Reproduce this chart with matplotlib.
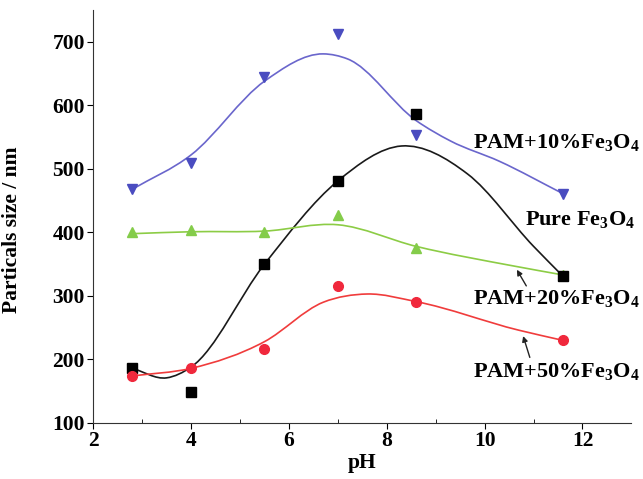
import numpy as np
import matplotlib.pyplot as plt
from matplotlib.path import Path
from matplotlib.patches import PathPatch

plt.rcParams['font.family'] = 'Liberation Serif'
plt.rcParams['font.weight'] = 'bold'
plt.rcParams['mathtext.fontset'] = 'custom'
plt.rcParams['mathtext.rm'] = 'Liberation Serif:bold'
plt.rcParams['mathtext.it'] = 'Liberation Serif:bold'
plt.rcParams['mathtext.bf'] = 'Liberation Serif:bold'

# measured points
ph = [2.8, 4.0, 5.5, 7.0, 8.6, 11.6]
pam10 = [469, 510, 645, 712, 554, 461]
pure = [186, 149, 350, 481, 587, 331]
pam20 = [400, 403, 401, 427, 376, 333]
pam50 = [174, 186, 216, 315, 290, 230]

# fitted curves, knots
fit10_x = [2.8, 4.0, 5.5, 6.7, 7.2, 8.6, 9.3, 10.3, 11.6]
fit10_y = [468, 522, 638, 681, 673, 576, 544, 512, 461]
fitpure_x = [2.8, 3.5, 4.0, 5.5, 7.0, 8.3, 9.65, 11.0, 11.6]
fitpure_y = [186, 171, 188, 350, 481, 536, 492, 378, 331]
fit20_x = [2.8, 4.0, 5.5, 7.0, 8.6, 10.6, 11.6]
fit20_y = [398, 401, 402, 412, 378, 347, 333]
fit50_x = [2.8, 4.0, 5.5, 6.7, 7.6, 8.6, 10.7, 11.6]
fit50_y = [174, 186, 228, 290, 303, 291, 246, 230]


def smooth_path(xs, ys):
    # cubic hermite through the knots, drawn as bezier segments
    x = np.asarray(xs, float)
    y = np.asarray(ys, float)
    m = np.gradient(y, x)
    verts = [(x[0], y[0])]
    codes = [Path.MOVETO]
    for i in range(len(x) - 1):
        h = (x[i + 1] - x[i]) / 3
        verts += [(x[i] + h, y[i] + m[i] * h),
                  (x[i + 1] - h, y[i + 1] - m[i + 1] * h),
                  (x[i + 1], y[i + 1])]
        codes += [Path.CURVE4] * 3
    return Path(verts, codes)


fig = plt.figure(figsize=(6.43, 4.79), dpi=100)
ax = fig.add_axes([0.145, 0.117, 0.837, 0.862])

curves = [
    (fit10_x, fit10_y, '#6a66cc'),
    (fitpure_x, fitpure_y, '#1a1a1a'),
    (fit20_x, fit20_y, '#8ccc45'),
    (fit50_x, fit50_y, '#f03c3c'),
]
for cx, cy, c in curves:
    ax.add_patch(PathPatch(smooth_path(cx, cy), fill=False, edgecolor=c, lw=1.2))

ax.plot(ph, pam10, 'v', color='#4a4cc0', ms=7, ls='none')
ax.plot(ph, pam20, '^', color='#84cc4a', ms=7, ls='none')
ax.plot(ph, pure, 's', color='black', ms=6.5, ls='none')
ax.plot(ph, pam50, 'o', color='#f0283c', ms=7, ls='none')

ax.set_xlim(2, 13)
ax.set_ylim(100, 750)
ax.set_xticks([2, 4, 6, 8, 10, 12])
ax.set_xticks([3, 5, 7, 9, 11], minor=True)
ax.set_yticks([100, 200, 300, 400, 500, 600, 700])
ax.spines['top'].set_visible(False)
ax.spines['right'].set_visible(False)
ax.spines['left'].set_color('#333333')
ax.spines['bottom'].set_color('#333333')
ax.tick_params(axis='both', which='major', labelsize=15.5, length=4, direction='out', pad=2)
ax.tick_params(axis='x', which='minor', length=3, direction='in')
for lab in ax.get_xticklabels() + ax.get_yticklabels():
    lab.set_fontweight('bold')

ax.set_xlabel('pH', fontsize=15.5, fontweight='bold', labelpad=1)
ax.set_ylabel('Particals size / nm', fontsize=15.5, fontweight='bold')
ax.yaxis.set_label_coords(-0.132, 0.467)

fs = 16
ax.text(9.77, 533, r'PAM+10%Fe$_3$O$_4$', fontsize=fs, ha='left', clip_on=False)
ax.text(10.83, 412, r'Pure Fe$_3$O$_4$', fontsize=fs, ha='left', clip_on=False)
ax.text(9.77, 288, r'PAM+20%Fe$_3$O$_4$', fontsize=fs, ha='left', clip_on=False)
ax.text(9.77, 172, r'PAM+50%Fe$_3$O$_4$', fontsize=fs, ha='left', clip_on=False)

arrow = dict(arrowstyle='-|>', color='#222222', lw=1, mutation_scale=8)
ax.annotate('', xy=(10.63, 345), xytext=(10.88, 312), arrowprops=arrow)
ax.annotate('', xy=(10.77, 241), xytext=(10.94, 199), arrowprops=arrow)

fig.savefig('out.png', dpi=100)
